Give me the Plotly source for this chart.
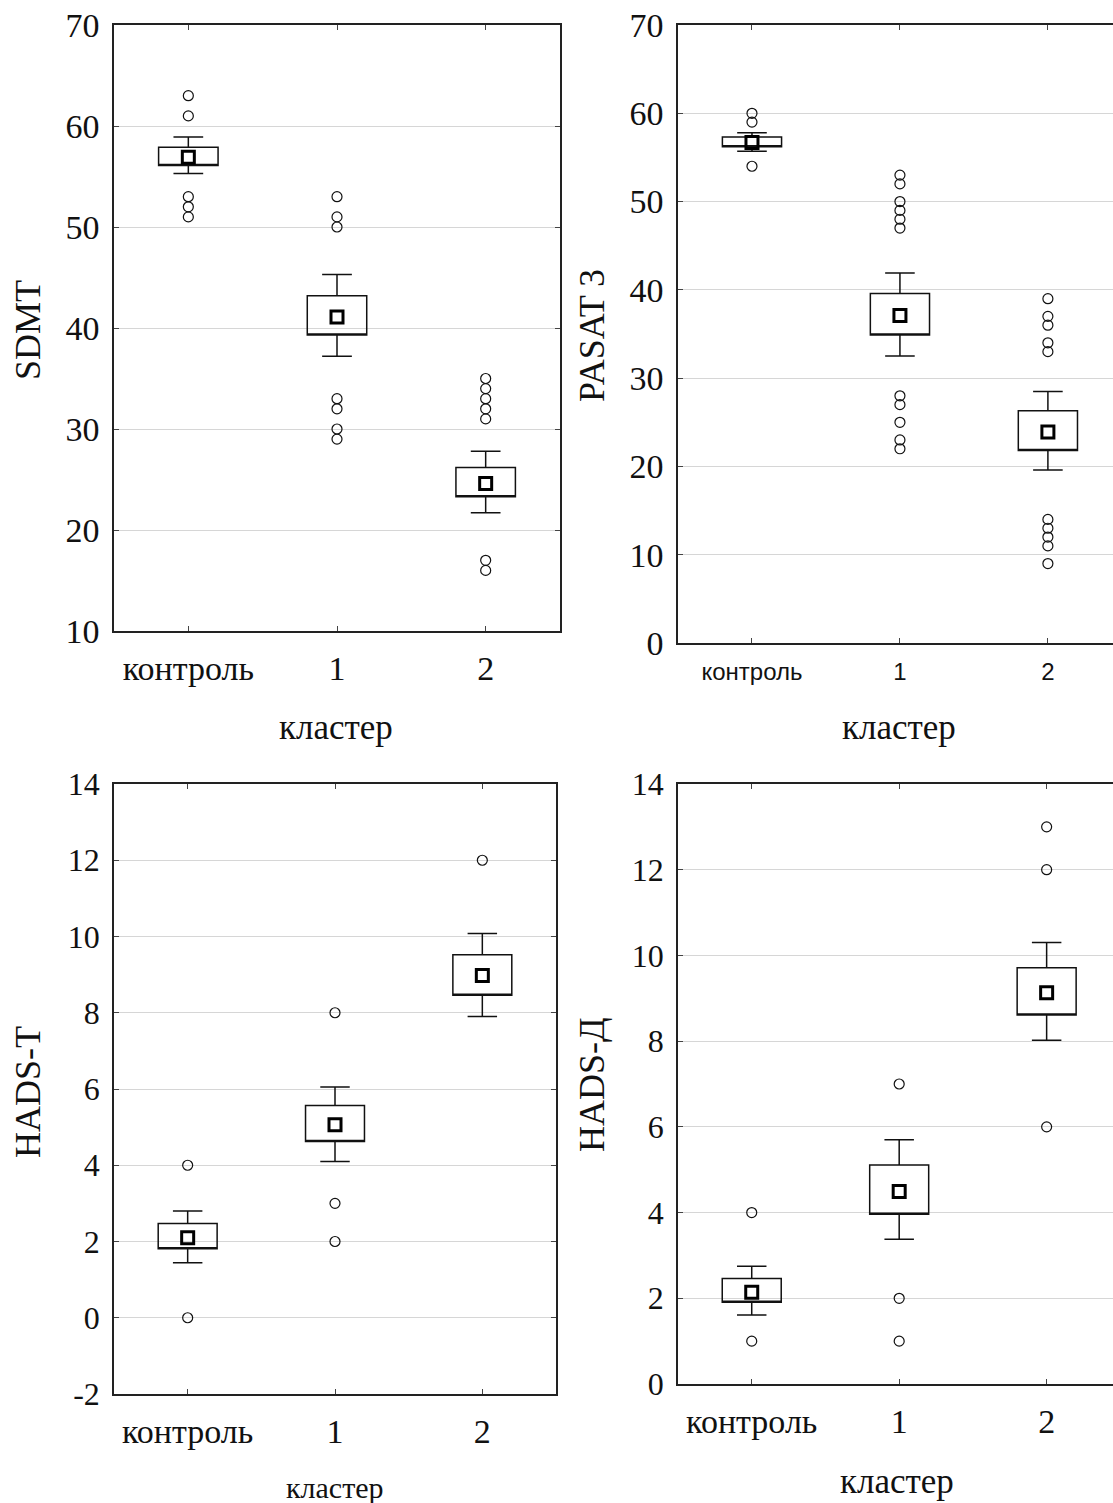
import plotly.graph_objects as go

W, H = 1113, 1503
categories = ["контроль", "1", "2"]
cat_pos = [0, 1, 2]

# ---- SDMT ----
sdmt_mean = [56.9, 41.1, 24.6]
sdmt_box_lo = [56.1, 39.3, 23.3]
sdmt_box_hi = [57.9, 43.2, 26.2]
sdmt_wh_lo = [55.3, 37.2, 21.7]
sdmt_wh_hi = [58.9, 45.3, 27.8]
sdmt_out_control = [63, 61, 53, 52, 51]
sdmt_out_c1 = [53, 51, 50, 33, 32, 30, 29]
sdmt_out_c2 = [35, 34, 33, 32, 31, 17, 16]

# ---- PASAT 3 ----
pasat_mean = [56.7, 37.1, 23.9]
pasat_box_lo = [56.2, 34.9, 21.8]
pasat_box_hi = [57.3, 39.6, 26.3]
pasat_wh_lo = [55.7, 32.5, 19.6]
pasat_wh_hi = [57.8, 41.9, 28.5]
pasat_out_control = [60, 59, 54]
pasat_out_c1 = [53, 52, 50, 49, 48, 47, 28, 27, 25, 23, 22]
pasat_out_c2 = [39, 37, 36, 34, 33, 14, 13, 12, 11, 9]

# ---- HADS-T ----
hadst_mean = [2.10, 5.06, 8.98]
hadst_box_lo = [1.81, 4.62, 8.46]
hadst_box_hi = [2.47, 5.57, 9.52]
hadst_wh_lo = [1.44, 4.10, 7.90]
hadst_wh_hi = [2.80, 6.05, 10.08]
hadst_out_control = [4, 0]
hadst_out_c1 = [8, 3, 2]
hadst_out_c2 = [12]

# ---- HADS-Д ----
hadsd_mean = [2.14, 4.49, 9.13]
hadsd_box_lo = [1.91, 3.96, 8.61]
hadsd_box_hi = [2.46, 5.11, 9.71]
hadsd_wh_lo = [1.61, 3.38, 8.02]
hadsd_wh_hi = [2.75, 5.70, 10.30]
hadsd_out_control = [4, 1]
hadsd_out_c1 = [7, 2, 1]
hadsd_out_c2 = [13, 12, 6]

y_titles = ["SDMT", "PASAT 3", "HADS-T", "HADS-Д"]
x_title = "кластер"
sdmt_ticks = [10, 20, 30, 40, 50, 60, 70]
pasat_ticks = [0, 10, 20, 30, 40, 50, 60, 70]
hadst_ticks = [-2, 0, 2, 4, 6, 8, 10, 12, 14]
hadsd_ticks = [0, 2, 4, 6, 8, 10, 12, 14]

SERIF = "Liberation Serif, Times New Roman, serif"
SANS = "Liberation Sans, Arial, sans-serif"

def px_x(p):
    return p / W

def px_y(p):
    return 1 - p / H

panels = [
    dict(mean=sdmt_mean, blo=sdmt_box_lo, bhi=sdmt_box_hi, wlo=sdmt_wh_lo, whi=sdmt_wh_hi,
         outs=[sdmt_out_control, sdmt_out_c1, sdmt_out_c2], ticks=sdmt_ticks,
         yrange=[10, 70], xdom=(114, 560), ydom=(25, 631), xrange=[-0.5, 2.5],
         closed=True, xfont=dict(family=SERIF, size=34), yfont=dict(family=SERIF, size=34),
         ytitle_pos=(28, 330), xtitle_pos=(336, 728), xtitle_size=35, ytitle_size=36),
    dict(mean=pasat_mean, blo=pasat_box_lo, bhi=pasat_box_hi, wlo=pasat_wh_lo, whi=pasat_wh_hi,
         outs=[pasat_out_control, pasat_out_c1, pasat_out_c2], ticks=pasat_ticks,
         yrange=[0, 70], xdom=(678, 1113), ydom=(25, 643), xrange=[-0.5, 2.44],
         closed=False, xfont=dict(family=SANS, size=24), yfont=dict(family=SERIF, size=34),
         ytitle_pos=(592, 335), xtitle_pos=(899, 727), xtitle_size=35, ytitle_size=36),
    dict(mean=hadst_mean, blo=hadst_box_lo, bhi=hadst_box_hi, wlo=hadst_wh_lo, whi=hadst_wh_hi,
         outs=[hadst_out_control, hadst_out_c1, hadst_out_c2], ticks=hadst_ticks,
         yrange=[-2, 14], xdom=(114, 556), ydom=(784, 1394), xrange=[-0.5, 2.5],
         closed=True, xfont=dict(family=SERIF, size=34), yfont=dict(family=SERIF, size=32),
         ytitle_pos=(28, 1092), xtitle_pos=(335, 1487), xtitle_size=30, ytitle_size=36),
    dict(mean=hadsd_mean, blo=hadsd_box_lo, bhi=hadsd_box_hi, wlo=hadsd_wh_lo, whi=hadsd_wh_hi,
         outs=[hadsd_out_control, hadsd_out_c1, hadsd_out_c2], ticks=hadsd_ticks,
         yrange=[0, 14], xdom=(678, 1113), ydom=(784, 1384), xrange=[-0.5, 2.45],
         closed=False, xfont=dict(family=SERIF, size=34), yfont=dict(family=SERIF, size=32),
         ytitle_pos=(592, 1084), xtitle_pos=(897, 1481), xtitle_size=35, ytitle_size=36),
]

fig = go.Figure()
layout = dict(width=W, height=H, margin=dict(l=0, r=0, t=0, b=0, autoexpand=False),
              paper_bgcolor="white", plot_bgcolor="white", showlegend=False)
annotations = []

for i, p in enumerate(panels):
    n = "" if i == 0 else str(i + 1)
    xa, ya = "x" + n, "y" + n
    fig.add_trace(go.Box(
        x=cat_pos, q1=p["blo"], median=p["blo"], q3=p["bhi"],
        lowerfence=p["wlo"], upperfence=p["whi"],
        width=0.4, whiskerwidth=0.5, boxpoints=False,
        line=dict(color="#111111", width=1.5), fillcolor="rgba(255,255,255,0)",
        xaxis=xa, yaxis=ya, hoverinfo="skip", showlegend=False))
    ox, oy = [], []
    for pos, vals in zip(cat_pos, p["outs"]):
        for v in vals:
            ox.append(pos)
            oy.append(v)
    fig.add_trace(go.Scatter(
        x=ox, y=oy, mode="markers", xaxis=xa, yaxis=ya,
        marker=dict(symbol="circle-open", size=10, color="#111111", line=dict(width=1.2)),
        hoverinfo="skip", showlegend=False))
    fig.add_trace(go.Scatter(
        x=cat_pos, y=p["mean"], mode="markers", xaxis=xa, yaxis=ya,
        marker=dict(symbol="square-open", size=12, color="#000000", line=dict(width=3)),
        hoverinfo="skip", showlegend=False))

    layout["xaxis" + n] = dict(
        domain=[px_x(p["xdom"][0]), min(1.0, px_x(p["xdom"][1]))],
        range=p["xrange"], anchor=ya, tickmode="array", tickvals=cat_pos,
        ticktext=categories, ticks="inside", ticklen=5, tickcolor="#444",
        showline=True, linecolor="#222", linewidth=1.5, mirror="ticks",
        showgrid=False, zeroline=False, automargin=False,
        tickfont=dict(color="#111", **p["xfont"]), ticklabelstandoff=6)
    layout["yaxis" + n] = dict(
        domain=[px_y(p["ydom"][1]), px_y(p["ydom"][0])],
        range=p["yrange"], anchor=xa, tickmode="array", tickvals=p["ticks"],
        ticktext=[str(v).replace("\u2212", "-") for v in p["ticks"]],
        ticks="inside", ticklen=5, tickcolor="#444",
        showline=True, linecolor="#222", linewidth=1.5,
        mirror="ticks" if p["closed"] else False,
        showgrid=True, gridcolor="#d6d6d6", gridwidth=1.2, zeroline=False, automargin=False,
        tickfont=dict(color="#111", **p["yfont"]), ticklabelstandoff=6)

    annotations.append(dict(
        x=px_x(p["ytitle_pos"][0]), y=px_y(p["ytitle_pos"][1]), xref="paper", yref="paper",
        text=y_titles[i], textangle=-90, showarrow=False, xanchor="center", yanchor="middle",
        font=dict(family=SERIF, size=p["ytitle_size"], color="#111")))
    annotations.append(dict(
        x=px_x(p["xtitle_pos"][0]), y=px_y(p["xtitle_pos"][1]), xref="paper", yref="paper",
        text=x_title, showarrow=False, xanchor="center", yanchor="middle",
        font=dict(family=SERIF, size=p["xtitle_size"], color="#111")))

layout["annotations"] = annotations
fig.update_layout(**layout)
fig.write_html("out.html")
